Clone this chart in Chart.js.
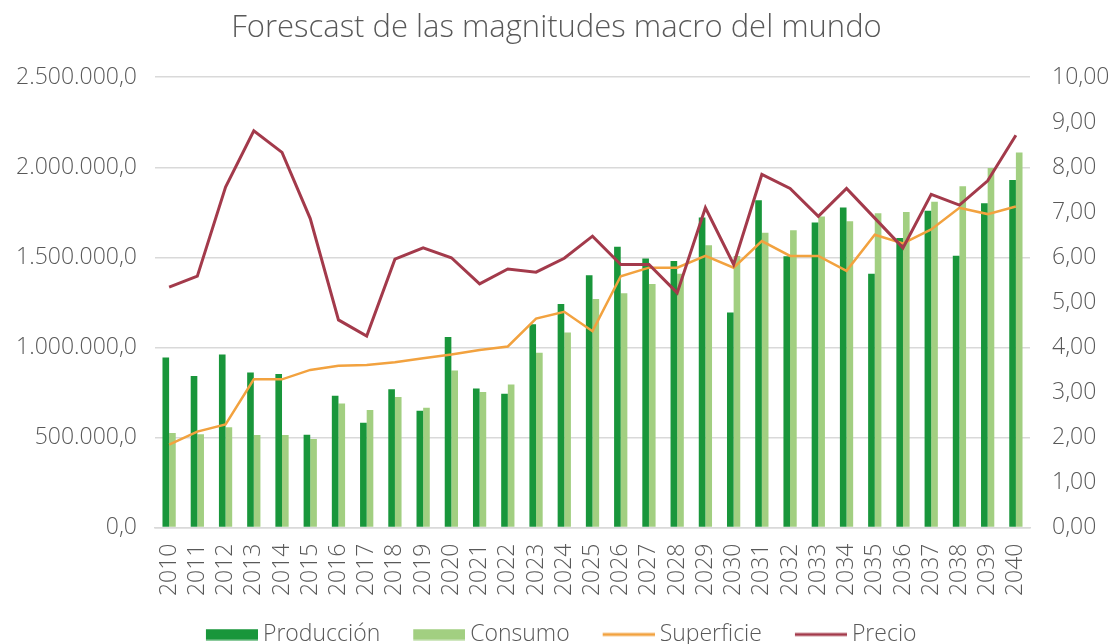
<!DOCTYPE html>
<html>
<head>
<meta charset="utf-8">
<script src="https://cdn.jsdelivr.net/npm/chart.js@4.4.1/dist/chart.umd.min.js"></script>
<style>
html,body{margin:0;padding:0;background:#fff;overflow:hidden;}
#wrap{position:relative;width:1113px;height:656px;}
</style>
</head>
<body>
<div id="wrap"><canvas id="c"></canvas></div>
<script>
const years = ['2010','2011','2012','2013','2014','2015','2016','2017','2018','2019','2020','2021','2022','2023','2024','2025','2026','2027','2028','2029','2030','2031','2032','2033','2034','2035','2036','2037','2038','2039','2040'];
const produccion = [944000,841000,961000,861000,852000,515000,732000,582000,767000,648000,1057000,772000,743000,1128000,1241000,1400000,1559000,1494000,1480000,1721000,1193000,1817000,1506000,1694000,1776000,1409000,1607000,1759000,1509000,1800000,1929000];
const consumo = [524000,518000,556000,513000,513000,491000,689000,652000,724000,665000,872000,752000,794000,970000,1083000,1269000,1300000,1352000,1409000,1567000,1507000,1637000,1650000,1726000,1700000,1744000,1752000,1809000,1894000,1996000,2082000];
const superficie = [1.84,2.13,2.29,3.29,3.29,3.50,3.59,3.61,3.67,3.76,3.84,3.94,4.02,4.64,4.79,4.36,5.58,5.77,5.77,6.03,5.77,6.36,6.03,6.03,5.70,6.50,6.31,6.62,7.10,6.96,7.13];
const precio = [5.34,5.58,7.56,8.81,8.33,6.86,4.61,4.25,5.96,6.21,5.99,5.41,5.74,5.67,5.98,6.47,5.84,5.84,5.21,7.10,5.84,7.84,7.53,6.91,7.53,6.87,6.21,7.40,7.16,7.70,8.71];
const leftTicks = [0,500000,1000000,1500000,2000000,2500000];
const rightTicks = [0,1,2,3,4,5,6,7,8,9,10];

function fmtL(v){
  const s = Math.round(v).toString().replace(/\B(?=(\d{3})+(?!\d))/g,'.');
  return s + ',0';
}
function fmtR(v){ return v.toFixed(2).replace('.',','); }

const C_PROD = '#19963B', C_CONS = '#A2CF81', C_SUP = '#F2A23F', C_PRE = '#A33A4B';
const PSW = 55;            // legend layout width
const SYM_W = PSW + 13;    // full symbol image width (transparent on the left)
const VIS_W = 52;          // visible symbol width
function legendSymbol(color, kind){
  const cv = document.createElement('canvas');
  cv.width = SYM_W; cv.height = 12;
  const g = cv.getContext('2d');
  g.fillStyle = color;
  const x0 = SYM_W - VIS_W;
  if (kind === 'box') g.fillRect(x0, 0.5, VIS_W, 11);
  else g.fillRect(x0, 4.5, VIS_W, 3);
  return cv;
}

const FONT = "'Open Sans', 'DejaVu Sans', sans-serif";
const TXT = '#595959';

new Chart(document.getElementById('c'), {
  data: {
    labels: years,
    datasets: [
      {type:'line', label:'Superficie', data:superficie, yAxisID:'y1', borderColor:C_SUP, backgroundColor:C_SUP, borderWidth:2.5, pointRadius:0, tension:0, pointStyle:legendSymbol(C_SUP,'line'), order:1},
      {type:'line', label:'Precio', data:precio, yAxisID:'y1', borderColor:C_PRE, backgroundColor:C_PRE, borderWidth:3, pointRadius:0, tension:0, pointStyle:legendSymbol(C_PRE,'line'), order:0},
      {type:'bar', label:'Producción', data:produccion, yAxisID:'y', backgroundColor:C_PROD, borderWidth:0, categoryPercentage:0.47, barPercentage:1.0, pointStyle:legendSymbol(C_PROD,'box'), order:2},
      {type:'bar', label:'Consumo', data:consumo, yAxisID:'y', backgroundColor:C_CONS, borderWidth:0, categoryPercentage:0.47, barPercentage:1.0, pointStyle:legendSymbol(C_CONS,'box'), order:3}
    ]
  },
  options: {
    responsive:true,
    maintainAspectRatio:false,
    animation:false,
    layout:{padding:0},
    plugins:{
      title:{display:true, text:'Forescast de las magnitudes macro del mundo', color:TXT,
        font:{family:FONT, size:31, weight:'300', lineHeight:1.2}, padding:{top:10,bottom:30}},
      legend:{position:'bottom',
        labels:{
          color:TXT, font:{family:FONT, size:23, weight:'300'},
          usePointStyle:true, pointStyleWidth:PSW, boxHeight:23, padding:23.5,
          sort:(a,b)=>{const o={'Producción':0,'Consumo':1,'Superficie':2,'Precio':3};return o[a.text]-o[b.text];}
        }
      },
      tooltip:{enabled:false}
    },
    scales:{
      x:{
        grid:{display:false},
        border:{display:true, color:'#D9D9D9', width:1.5},
        ticks:{color:TXT, font:{family:FONT, size:23, weight:'300'}, minRotation:90, maxRotation:90, autoSkip:false, padding:8},
        afterFit:(s)=>{s.height=72;}
      },
      y:{
        position:'left', min:0, max:2500000,
        afterBuildTicks:(s)=>{s.ticks = leftTicks.map(v=>({value:v}));},
        grid:{color:'#D9D9D9', lineWidth:1.5, drawTicks:false},
        border:{display:false},
        ticks:{color:TXT, font:{family:FONT, size:23, weight:'300'}, padding:18, callback:(v)=>fmtL(v)},
        afterFit:(s)=>{s.width=155;}
      },
      y1:{
        position:'right', min:0, max:10,
        afterBuildTicks:(s)=>{s.ticks = rightTicks.map(v=>({value:v}));},
        grid:{display:false, drawTicks:false},
        border:{display:false},
        ticks:{color:TXT, font:{family:FONT, size:23, weight:'300'}, padding:22, callback:(v)=>fmtR(v)},
        afterFit:(s)=>{s.width=83;}
      }
    }
  }
});
</script>
</body>
</html>
